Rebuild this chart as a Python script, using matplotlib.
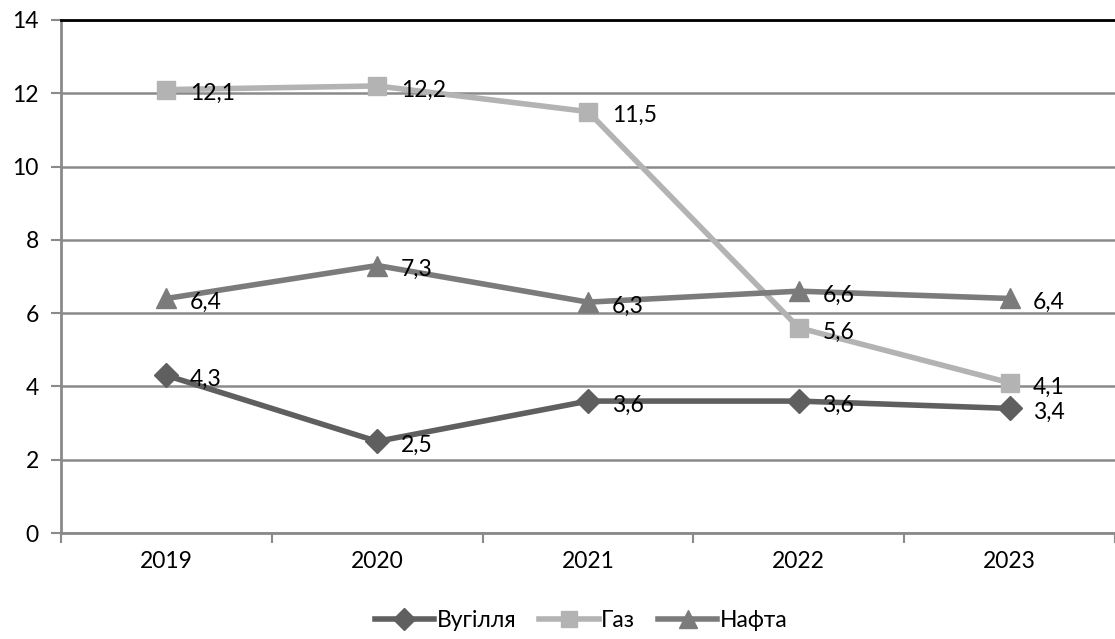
import matplotlib.pyplot as plt
import numpy as np

years = ["2019", "2020", "2021", "2022", "2023"]
coal = [4.3, 2.5, 3.6, 3.6, 3.4]
gas = [12.1, 12.2, 11.5, 5.6, 4.1]
oil = [6.4, 7.3, 6.3, 6.6, 6.4]

plt.rcParams["font.family"] = ["Lato", "DejaVu Sans"]
FS = 16.5

fig = plt.figure(figsize=(11.15, 6.39), dpi=100)
ax = fig.add_axes([61 / 1115, 1 - 533 / 639, 1 - 61 / 1115, (533 - 20) / 639])

x = np.arange(len(years))
series = [
    ("Вугілля", coal, "#5f5f5f", "D", 12),
    ("Газ", gas, "#b3b3b3", "s", 13),
    ("Нафта", oil, "#7b7b7b", "^", 14),
]
for name, vals, col, mk, ms in series:
    ax.plot(x, vals, color=col, lw=4, marker=mk, ms=ms, label=name, zorder=3)
    for xi, v in zip(x, vals):
        ax.annotate(f"{v:.1f}".replace(".", ","), (xi, v), xytext=(17, -3),
                    textcoords="offset points", ha="left", va="center",
                    fontsize=FS, color="black", zorder=4)

ax.set_xlim(-0.5, len(years) - 0.5)
ax.set_ylim(0, 14)
ax.set_yticks(range(0, 15, 2))
ax.set_xticks(x)
ax.set_xticklabels(years)
ax.set_xticks(np.arange(-0.5, len(years), 1), minor=True)
ax.tick_params(axis="x", which="major", length=0, pad=13, labelsize=FS)
ax.tick_params(axis="x", which="minor", length=7, width=1.5, color="#8a8a8a")
ax.tick_params(axis="y", length=7, width=1.5, color="#8a8a8a", labelsize=FS, pad=9)

ax.grid(axis="y", color="#8a8a8a", lw=1.8)
ax.set_axisbelow(True)
for side in ["left", "bottom"]:
    ax.spines[side].set_color("#8a8a8a")
    ax.spines[side].set_linewidth(2)
ax.spines["right"].set_visible(False)
ax.spines["top"].set_color("black")
ax.spines["top"].set_linewidth(2)

ax.legend(loc="center", bbox_to_anchor=(520 / 1054, -0.17), ncol=3, frameon=False,
          fontsize=FS, handlelength=2.6, handletextpad=0.1, columnspacing=1.0,
          markerscale=0.9)

fig.savefig("out.png", dpi=100)
